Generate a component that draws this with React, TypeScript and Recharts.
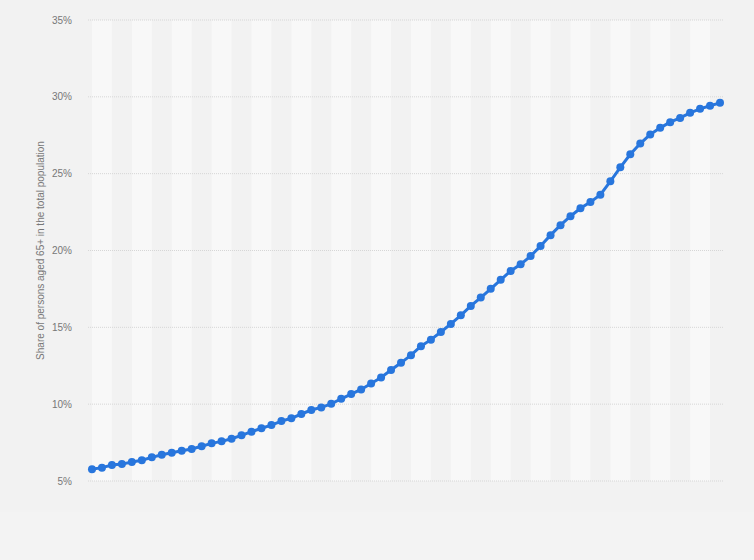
import React from "react";
import { LineChart, Line, XAxis, YAxis, ReferenceArea, ReferenceLine } from "recharts";

const YEARS = [
  1990, 1991, 1992, 1993, 1994, 1995, 1996, 1997, 1998, 1999,
  2000, 2001, 2002, 2003, 2004, 2005, 2006, 2007, 2008, 2009,
  2010, 2011, 2012, 2013, 2014, 2015, 2016, 2017, 2018, 2019,
  2020, 2021, 2022, 2023, 2024, 2025, 2026, 2027, 2028, 2029,
  2030, 2031, 2032, 2033, 2034, 2035, 2036, 2037, 2038, 2039,
  2040, 2041, 2042, 2043, 2044, 2045, 2046, 2047, 2048, 2049,
  2050, 2051, 2052, 2053,
];

const SHARE = [
  5.76, 5.87, 6.04, 6.1, 6.24, 6.35, 6.54, 6.71, 6.84, 6.97,
  7.08, 7.26, 7.45, 7.58, 7.75, 7.97, 8.21, 8.43, 8.64, 8.9,
  9.08, 9.36, 9.62, 9.79, 10.02, 10.35, 10.66, 10.96, 11.35, 11.74,
  12.22, 12.69, 13.19, 13.77, 14.2, 14.7, 15.22, 15.78, 16.39, 16.94,
  17.51, 18.09, 18.67, 19.1, 19.64, 20.29, 21.0, 21.65, 22.23, 22.75,
  23.15, 23.63, 24.5, 25.41, 26.26, 26.96, 27.55, 27.98, 28.35, 28.63,
  28.96, 29.22, 29.42, 29.61,
];

const Y_TICKS = [5, 10, 15, 20, 25, 30, 35];
const Y_LABEL = "Share of persons aged 65+ in the total population";

const data = YEARS.map((year, i) => ({ year, share: SHARE[i] }));

const bands: { x1: number; x2: number }[] = [];
for (let k = 0; 4 * k + 2 < YEARS.length; k++) {
  bands.push({ x1: YEARS[4 * k], x2: YEARS[4 * k + 2] });
}

const FONT = "'Liberation Sans', Arial, Helvetica, sans-serif";
const BLUE = "#2876dd";
const TEXT = "#777";

const renderYLabel = (props: any) => {
  const vb = props.viewBox || { x: 0, y: 20, width: 88, height: 461 };
  const cx = vb.x + 40;
  const cy = vb.y + vb.height / 2;
  return (
    <text
      x={cx}
      y={cy}
      transform={`rotate(-90, ${cx}, ${cy})`}
      textAnchor="middle"
      dominantBaseline="central"
      fill={TEXT}
      fontSize={10}
      fontFamily={FONT}
    >
      {Y_LABEL}
    </text>
  );
};

export default function App() {
  return (
    <div
      style={{
        position: "absolute",
        left: 0,
        top: 0,
        width: 754,
        height: 560,
        background: "linear-gradient(#f2f2f2 0px, #f2f2f2 512px, #f3f3f3 512px, #f3f3f3 560px)",
      }}
    >
      <LineChart
        width={754}
        height={560}
        data={data}
        margin={{ top: 20, right: 30, bottom: 79, left: 0 }}
      >
        <XAxis
          dataKey="year"
          type="number"
          domain={[YEARS[0] - 0.4, YEARS[YEARS.length - 1] + 0.4]}
          hide
        />
        <YAxis
          width={88}
          domain={[5, 35]}
          ticks={Y_TICKS}
          interval={0}
          axisLine={false}
          tickLine={false}
          tickSize={0}
          tickMargin={16}
          tickFormatter={(v: number) => `${v}%`}
          tick={{ fill: TEXT, fontSize: 10, fontFamily: FONT }}
          label={{ position: "center", content: renderYLabel }}
        />
        {bands.map((b, i) => (
          <ReferenceArea
            key={`band-${i}`}
            x1={b.x1}
            x2={b.x2}
            y1={5}
            y2={35}
            fill="#f8f8f8"
            fillOpacity={1}
            stroke="none"
          />
        ))}
        {Y_TICKS.map((t) => (
          <ReferenceLine
            key={`grid-${t}`}
            y={t}
            stroke="#d6d6d6"
            strokeDasharray="1 1"
            strokeWidth={1}
          />
        ))}
        <Line
          type="linear"
          dataKey="share"
          stroke={BLUE}
          strokeWidth={3}
          dot={{ r: 4, fill: BLUE, stroke: BLUE, strokeWidth: 0 }}
          activeDot={false}
          isAnimationActive={false}
        />
      </LineChart>
    </div>
  );
}
